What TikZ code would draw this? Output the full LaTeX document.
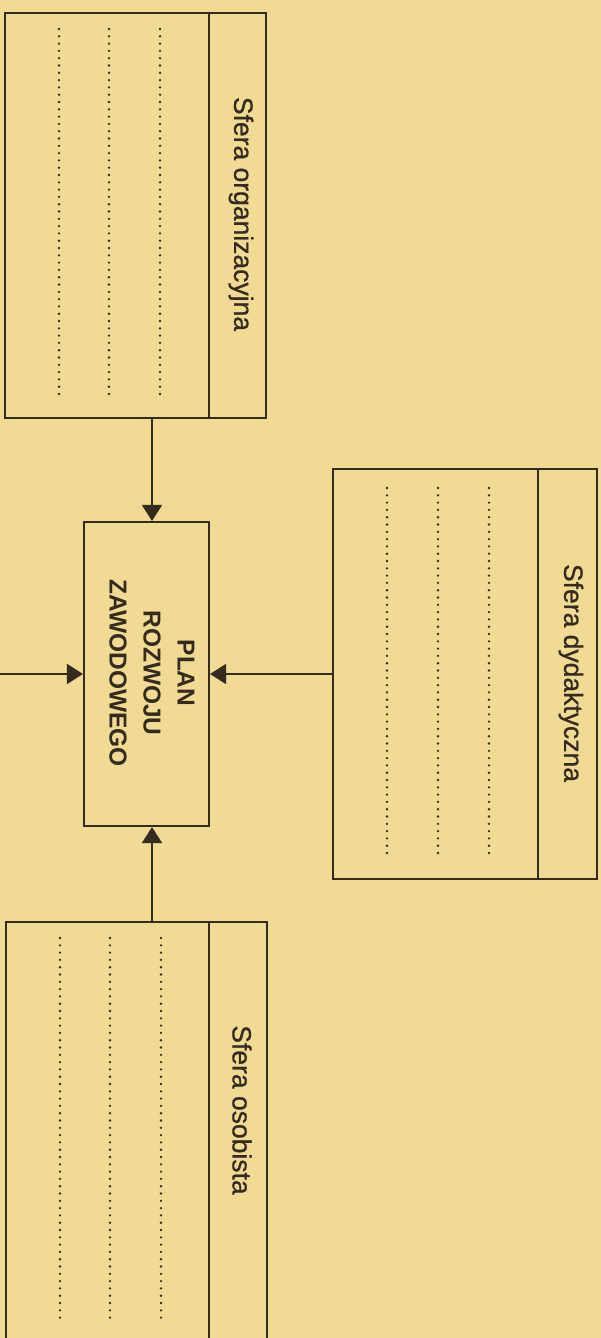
\documentclass[tikz,border=0pt]{standalone}
\usepackage{fontspec}
\setmainfont{Liberation Sans}
\newfontfamily\headfont[FakeBold=0.8]{Liberation Sans}
\usetikzlibrary{arrows.meta}
\definecolor{paper}{HTML}{F1DA93}
\definecolor{ink}{HTML}{352A1E}
\tikzset{
  boxline/.style={draw=ink, line width=2.1pt},
  sepline/.style={draw=ink, line width=1.9pt},
  dotline/.style={draw=ink, line width=2.6pt, line cap=round, dash pattern=on 0pt off 7.3pt},
  arr/.style={draw=ink, line width=1.8pt, -{Triangle[length=16pt,width=20pt]}},
  head/.style={text=ink, rotate=-90, font=\headfont\fontsize{26.5}{30}\selectfont, inner sep=0pt},
  plantext/.style={text=ink, rotate=-90, align=center, font=\fontsize{24.5}{34}\selectfont\bfseries, inner sep=0pt},
  box/.style={boxline, rectangle, inner sep=0pt}
}
\begin{document}
\begin{tikzpicture}[x=1pt,y=-1pt]
\fill[paper] (0,0) rectangle (601,1338);
\useasboundingbox (0,0) rectangle (601,1338);
% boxes
\node[box, minimum width=261pt, minimum height=405pt] (org) at (135.5,215.5) {};
\node[box, minimum width=125pt, minimum height=304pt] (plan) at (146.5,674) {};
\node[box, minimum width=264pt, minimum height=410pt] (dyd) at (465,674) {};
\node[rectangle, inner sep=0pt, minimum width=261pt, minimum height=430pt] (oso) at (136.5,1137) {};
\draw[boxline] (oso.south west) -- (oso.north west) -- (oso.north east) -- (oso.south east);
% separators
\coordinate (sa) at (209,0);
\coordinate (sb) at (538,0);
\draw[sepline] (org.north -| sa) -- (org.south -| sa);
\draw[sepline] (dyd.north -| sb) -- (dyd.south -| sb);
\draw[sepline] (oso.north -| sa) -- (oso.south -| sa);
% headers
\node[head] (torg) at (241,214) {Sfera organizacyjna};
\node[head] (tdyd) at (571,673) {Sfera dydaktyczna};
\node[head] (toso) at (242,1110) {Sfera osobista};
\node[plantext] (tplan) at (152,673) {PLAN\\ROZWOJU\\ZAWODOWEGO};
% dotted lines
\foreach \x in {59,109,160}{
  \draw[dotline] (\x,29) -- (\x,398);
  \draw[dotline] (\x+1,938) -- (\x+1,1319);
}
\foreach \x in {387,438,489}{
  \draw[dotline] (\x,488) -- (\x,858);
}
% connectors
\coordinate (ax) at (152,0);
\coordinate (lft) at (0,674);
\draw[arr] (org.south -| ax) -- (plan.north -| ax);
\draw[arr] (oso.north -| ax) -- (plan.south -| ax);
\draw[arr] (dyd.west) -- (plan.east);
\draw[arr] (lft) -- (plan.west);
\end{tikzpicture}
\end{document}
